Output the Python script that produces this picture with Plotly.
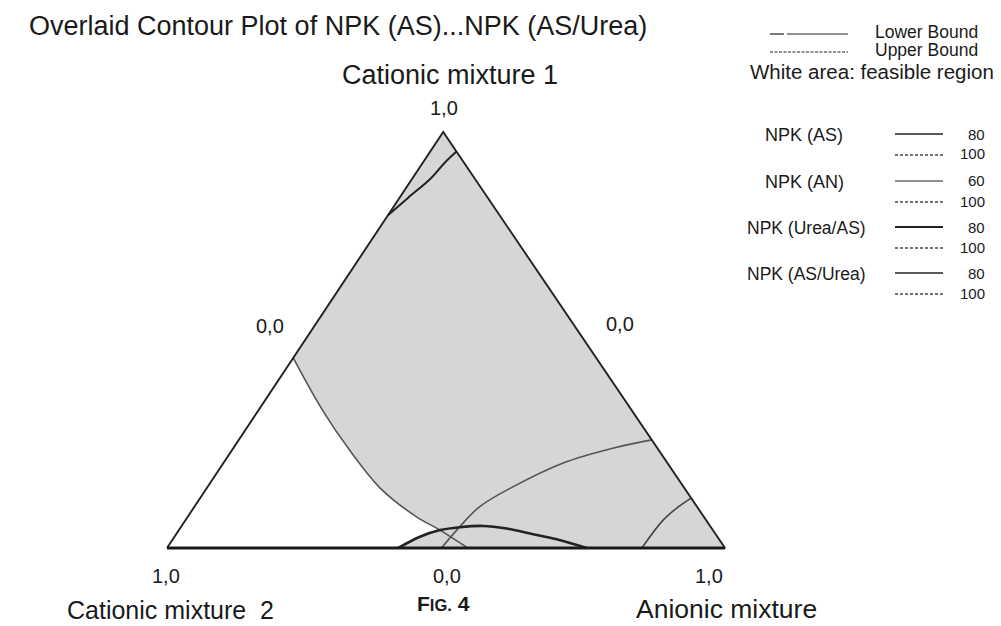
import plotly.graph_objects as go

# ---------------- data (ternary fractions) ----------------
# a = Cationic mixture 1 (top), c = Anionic mixture (right), b = 1 - a - c = Cationic mixture 2 (left)
triangle_a = [0.0, 0.0, 1.0, 0.0]
triangle_c = [0.0, 1.0, 0.0, 0.0]
base_a = [0.0, 0.0]
base_c = [0.0, 1.0]

# NPK (AS) contour bounding the feasible (white) region
npk_as_a = [0.457, 0.332, 0.236, 0.139, 0.075, 0.043, 0.0]
npk_as_c = [0.0, 0.114, 0.210, 0.317, 0.410, 0.468, 0.539]

# NPK (Urea/AS) lower bound arc along the base
npk_urea_as_a = [0.0, 0.027, 0.043, 0.050, 0.053, 0.047, 0.035, 0.021, 0.0]
npk_urea_as_c = [0.4145, 0.440, 0.468, 0.500, 0.540, 0.585, 0.633, 0.688, 0.752]

# NPK (AN) contour rising to the right edge
npk_an_a = [0.0, 0.043, 0.099, 0.147, 0.204, 0.240, 0.260]
npk_an_c = [0.492, 0.498, 0.511, 0.547, 0.608, 0.680, 0.740]

# NPK (AS/Urea) contour near the anionic corner
npk_as_urea_a = [0.0, 0.067, 0.098, 0.120]
npk_as_urea_c = [0.851, 0.856, 0.867, 0.880]

# upper contour near the Cationic mixture 1 apex
npk_top_a = [0.80, 0.841, 0.889, 0.925, 0.953]
npk_top_c = [0.0, 0.015, 0.033, 0.039, 0.047]

vertex_labels = ["1,0", "0,0", "0,0", "1,0", "0,0", "1,0"]
legend_names = ["NPK (AS)", "NPK (AN)", "NPK (Urea/AS)", "NPK (AS/Urea)"]
legend_lower = ["80", "60", "80", "80"]
legend_upper = ["100", "100", "100", "100"]

APEX_X = 0.495
FONT = "Liberation Sans, Arial, Helvetica, sans-serif"
OFF = 8                      # page body margin of the browser
W, H = 1001 - OFF, 626 - OFF  # figure size


def to_xy(a, c):
    return [ci + ai * APEX_X for ai, ci in zip(a, c)], list(a)


def pp(x, y):
    """window pixel -> paper coordinates"""
    return (x - OFF) / W, 1 - (y - OFF) / H


fig = go.Figure()

# grey (infeasible) area = triangle minus white feasible region
arc_n = 3  # arc points up to intersection with NPK (AS) curve
fill_a = [1.0, 0.0] + npk_urea_as_a[:arc_n] + npk_as_a[::-1][1:] + [1.0]
fill_c = [0.0, 1.0] + npk_urea_as_c[:arc_n] + npk_as_c[::-1][1:] + [0.0]
fx, fy = to_xy(fill_a, fill_c)
fig.add_trace(go.Scatter(x=fx, y=fy, mode="lines", fill="toself",
                         fillcolor="#d6d6d6", line=dict(width=0),
                         hoverinfo="skip", showlegend=False))


def add_line(a, c, color, width, shape="spline"):
    x, y = to_xy(a, c)
    fig.add_trace(go.Scatter(x=x, y=y, mode="lines",
                             line=dict(color=color, width=width, shape=shape, smoothing=1.0),
                             hoverinfo="skip", showlegend=False))


add_line(npk_as_a, npk_as_c, "#555555", 1.6)
add_line(npk_an_a, npk_an_c, "#555555", 1.6)
add_line(npk_as_urea_a, npk_as_urea_c, "#444444", 1.6)
add_line(npk_top_a, npk_top_c, "#222222", 2.0)
add_line(npk_urea_as_a, npk_urea_as_c, "#222222", 2.6)
add_line(triangle_a, triangle_c, "#222222", 1.9, "linear")
add_line(base_a, base_c, "#1a1a1a", 2.8, "linear")

ann = []


def text(t, x, y, size, anchor="center", bold=False):
    px_, py_ = pp(x, y)
    ann.append(dict(text=("<b>%s</b>" % t) if bold else t, x=px_, y=py_,
                    xref="paper", yref="paper", xanchor=anchor, yanchor="middle",
                    showarrow=False, font=dict(family=FONT, size=size, color="#1a1a1a")))


text("Overlaid Contour Plot of NPK (AS)...NPK (AS/Urea)", 27, 25.5, 27, "left")
text("Cationic mixture 1", 450, 75, 27)
text("Cationic mixture  2", 65, 610, 25, "left")
text("Anionic mixture", 726, 609, 26.5)
text("F<span style='font-size:16.5px'>IG.</span> 4", 443, 603, 21, bold=True)

label_pos = [(444, 108), (270, 326), (620, 324), (166, 576), (447, 576), (709, 576)]
for t, (x, y) in zip(vertex_labels, label_pos):
    text(t, x, y, 20)

# legend (bounds)
text("Lower Bound", 873, 32, 17.5, "left")
text("Upper Bound", 873, 50, 17.5, "left")
text("White area: feasible region", 748, 72, 20.5, "left")

shapes = []


def seg(x0, y0, x1, y1, width, dash="solid", color="#222222"):
    a0, b0 = pp(x0, y0)
    a1, b1 = pp(x1, y1)
    shapes.append(dict(type="line", xref="paper", yref="paper", x0=a0, y0=b0, x1=a1, y1=b1,
                       line=dict(color=color, width=width, dash=dash)))


seg(770, 34, 784, 34, 1.2)
seg(787, 34, 848, 34, 1.2)
seg(770, 52, 848, 52, 1.2, "3px,1.5px")

name_x = [763, 763, 745, 745]
row_y = [135, 182, 228, 274]
name_size = [18, 18, 17.5, 17.5]
lw = [1.6, 1.1, 2.2, 1.6]
for name, lo, up, nx, ry, fs, w in zip(legend_names, legend_lower, legend_upper,
                                       name_x, row_y, name_size, lw):
    text(name, nx, ry, fs, "left")
    seg(895, ry - 1, 943, ry - 1, w)
    seg(895, ry + 20, 943, ry + 20, 1.3, "3px,2px", "#444444")
    text(lo, 987, ry - 1, 15, "right")
    text(up, 987, ry + 19, 15, "right")

fig.update_layout(
    width=W, height=H,
    margin=dict(l=0, r=0, t=0, b=0, pad=0),
    paper_bgcolor="white", plot_bgcolor="white",
    showlegend=False,
    annotations=ann, shapes=shapes,
    xaxis=dict(range=[(OFF - 167) / 558, (1001 - 167) / 558], visible=False, fixedrange=True),
    yaxis=dict(range=[-(626 - 548) / 416, (548 - OFF) / 416], visible=False, fixedrange=True),
)

fig.write_html("out.html")
